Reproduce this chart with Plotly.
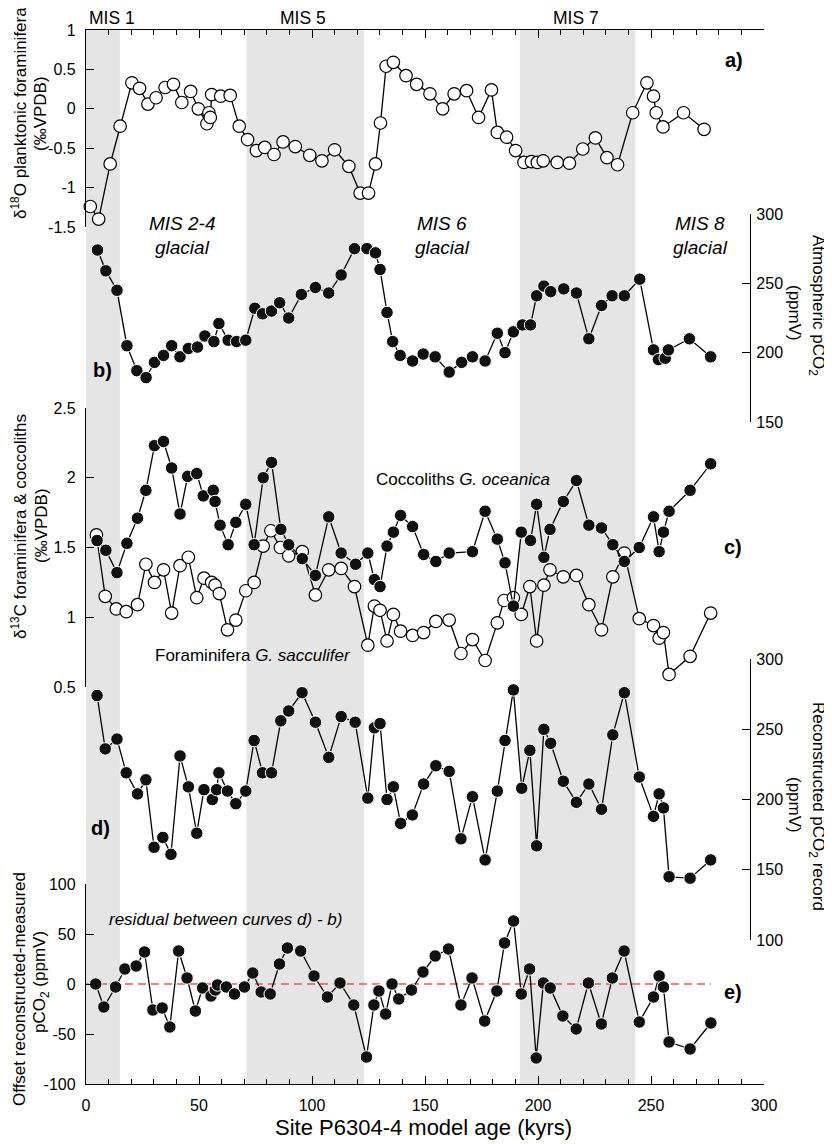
import plotly.graph_objects as go

# --- data ---
# a) d18O planktonic foraminifera
A_AGE = [1.9, 5.6, 10.7, 15.1, 20.3, 23.7, 27.4, 31.0, 35.0, 38.7, 42.4, 46.3, 49.7, 53.5, 54.4, 55.0,
         55.6, 59.6, 63.8, 67.8, 71.5, 75.4, 79.1, 83.2, 87.2, 92.6, 99.0, 104.4, 110.0, 116.3, 121.3,
         125.0, 128.1, 130.3, 132.8, 136.0, 141.6, 146.3, 152.2, 157.8, 162.9, 168.4, 173.7, 179.4,
         182.0, 186.1, 190.1, 193.8, 197.1, 199.7, 202.3, 208.5, 213.9, 219.8, 225.4, 230.5, 235.2,
         241.9, 248.2, 251.1, 252.3, 255.3, 264.4, 273.5]
A_D18O = [-1.24, -1.40, -0.70, -0.22, 0.33, 0.26, 0.06, 0.14, 0.27, 0.31, 0.08, 0.22, 0.0, -0.19, -0.05,
          -0.11, 0.18, 0.16, 0.17, -0.22, -0.39, -0.53, -0.49, -0.58, -0.42, -0.48, -0.59, -0.66, -0.52,
          -0.73, -1.07, -1.07, -0.70, -0.18, 0.54, 0.59, 0.42, 0.31, 0.19, 0.0, 0.19, 0.23, -0.11, 0.24,
          -0.30, -0.36, -0.53, -0.68, -0.67, -0.68, -0.66, -0.68, -0.69, -0.51, -0.37, -0.62, -0.71,
          -0.05, 0.33, 0.16, -0.05, -0.23, -0.05, -0.26]

# b) atmospheric pCO2 (ppmV)
B_AGE = [5.1, 8.8, 13.7, 18.1, 22.5, 26.6, 30.3, 34.3, 37.9, 41.6, 45.3, 49.3, 52.6, 56.6, 58.8, 62.9,
         66.6, 70.7, 74.7, 78.1, 82.1, 85.7, 89.7, 95.3, 101.5, 107.4, 112.9, 118.8, 124.3, 128.1, 130.1,
         133.2, 135.7, 139.0, 144.5, 149.2, 154.5, 160.7, 166.2, 171.0, 176.6, 182.0, 185.4, 189.1,
         193.1, 196.7, 199.4, 202.6, 205.6, 211.4, 217.0, 222.5, 228.1, 232.8, 238.2, 245.0, 251.1,
         253.3, 256.3, 257.7, 267.0, 276.4]
B_CO2 = [274, 259, 245, 205, 187, 182, 193, 198, 205, 197, 203, 204, 212, 208, 221, 209, 208, 209, 232,
         228, 230, 236, 225, 242, 247, 243, 256, 275, 275, 272, 260, 229, 208, 198, 194, 199, 197, 186,
         193, 197, 194, 214, 200, 215, 220, 220, 241, 248, 244, 246, 243, 210, 234, 241, 241, 253, 202,
         195, 196, 202, 210, 197]

# c) d13C coccoliths G. oceanica
C_COC_AGE = [4.9, 8.8, 13.7, 18.1, 22.8, 26.5, 30.3, 34.3, 37.9, 41.6, 45.0, 49.0, 51.9, 56.3, 57.1,
             59.3, 62.9, 66.3, 70.7, 74.4, 78.4, 82.1, 86.2, 89.7, 95.7, 101.5, 107.4, 112.9, 119.3,
             124.7, 127.6, 130.1, 133.2, 136.0, 139.2, 144.5, 149.4, 154.8, 160.7, 171.0, 176.6, 182.0,
             185.4, 189.1, 192.6, 196.7, 199.4, 202.6, 205.3, 211.2, 217.0, 222.5, 228.1, 233.1, 238.2,
             244.8, 251.1, 253.6, 255.5, 258.0, 267.3, 276.4]
C_COC = [1.55, 1.48, 1.32, 1.53, 1.71, 1.91, 2.23, 2.26, 2.07, 1.74, 2.01, 2.03, 1.87, 1.91, 1.83, 1.66,
         1.52, 1.68, 1.81, 1.52, 2.00, 2.11, 1.63, 1.52, 1.42, 1.30, 1.72, 1.46, 1.38, 1.46, 1.27, 1.22,
         1.51, 1.61, 1.73, 1.65, 1.45, 1.40, 1.46, 1.47, 1.76, 1.56, 1.39, 1.08, 1.61, 1.55, 1.81, 1.43,
         1.63, 1.83, 1.98, 1.66, 1.64, 1.52, 1.40, 1.50, 1.72, 1.47, 1.61, 1.76, 1.91, 2.10]

# c) d13C foraminifera G. sacculifer
C_FOR_AGE = [4.6, 8.5, 13.4, 17.8, 22.8, 26.5, 30.3, 34.3, 37.9, 41.6, 45.3, 49.0, 52.2, 55.6, 57.1,
             59.0, 62.6, 66.3, 70.7, 74.4, 78.4, 81.8, 86.0, 89.7, 95.7, 101.5, 107.4, 112.9, 118.8,
             124.7, 127.6, 130.1, 133.2, 136.0, 139.2, 144.5, 149.4, 154.8, 160.7, 165.9, 171.0, 176.6,
             182.0, 185.0, 189.1, 192.6, 196.4, 199.4, 202.6, 205.3, 211.2, 217.0, 222.5, 228.1, 233.1,
             238.2, 244.8, 251.1, 253.6, 255.5, 258.0, 267.3, 276.4]
C_FOR = [1.59, 1.15, 1.06, 1.04, 1.09, 1.38, 1.25, 1.34, 1.03, 1.37, 1.43, 1.14, 1.28, 1.25, 1.23, 1.17,
         0.91, 0.98, 1.19, 1.25, 1.51, 1.62, 1.50, 1.44, 1.47, 1.16, 1.34, 1.35, 1.22, 0.80, 1.08, 1.05,
         0.83, 1.02, 0.90, 0.87, 0.89, 0.97, 0.98, 0.74, 0.84, 0.69, 0.96, 1.12, 1.14, 1.02, 1.22, 0.83,
         1.23, 1.34, 1.29, 1.30, 1.09, 0.91, 1.29, 1.46, 0.99, 0.94, 0.85, 0.89, 0.59, 0.72, 1.03]

# d) reconstructed pCO2 (ppmV)
D_AGE = [4.9, 8.5, 13.7, 17.8, 22.8, 26.5, 30.1, 34.0, 37.6, 41.6, 45.3, 49.0, 52.2, 55.9, 57.8, 58.8,
         62.6, 66.3, 70.7, 74.4, 78.1, 82.1, 86.2, 89.7, 95.6, 101.5, 107.4, 112.9, 119.1, 124.7, 127.6,
         130.1, 133.2, 136.0, 139.2, 144.4, 149.4, 154.8, 160.7, 165.9, 171.0, 176.6, 182.0, 185.4,
         189.1, 192.8, 196.4, 199.4, 202.6, 205.6, 211.2, 217.0, 222.5, 228.1, 233.1, 238.2, 244.8,
         251.1, 253.6, 255.5, 258.0, 267.3, 276.4]
D_CO2 = [274, 236, 243, 219, 204, 214, 166, 173, 161, 231, 209, 176, 207, 200, 207, 219, 206, 197, 206,
         242, 219, 219, 256, 263, 276, 255, 230, 259, 255, 201, 251, 254, 200, 209, 183, 189, 211, 224,
         220, 172, 202, 157, 206, 242, 278, 208, 235, 167, 250, 240, 213, 198, 211, 193, 246, 276, 216,
         188, 204, 194, 145, 144, 157]

# e) residual d) - b) (ppmV)
E_AGE = [4.3, 7.9, 13.1, 17.2, 22.2, 25.9, 29.6, 33.7, 37.1, 41.0, 44.7, 48.4, 51.6, 55.3, 57.2, 58.2,
         62.1, 65.7, 70.1, 73.8, 77.5, 81.5, 85.6, 89.1, 95.0, 100.9, 106.8, 112.4, 118.5, 124.1, 127.4,
         129.6, 132.6, 135.4, 138.4, 144.0, 149.1, 154.5, 160.4, 165.9, 170.8, 176.4, 181.8, 185.2,
         189.2, 192.6, 196.3, 199.2, 202.4, 205.4, 211.0, 216.9, 222.3, 228.0, 232.9, 238.1, 244.8,
         251.1, 253.6, 255.5, 258.0, 267.3, 276.5]
E_RES = [0, -23, -3, 15, 18, 32, -26, -24, -43, 33, 6, -27, -4, -12, -6, -1, -3, -10, -3, 11, -8, -10,
         20, 36, 33, 8, -13, 1, -21, -73, -21, -7, -30, 0, -15, -6, 12, 28, 35, -21, 6, -37, -7, 41, 63,
         -10, 15, -74, 1, -4, -32, -45, 1, -40, 6, 33, -38, -13, 8, -3, -58, -65, -39]

# interglacial bands (kyr)
MIS_BANDS = [(0, 15), (71, 123), (192, 243)]

X_TICKS = [0, 50, 100, 150, 200, 250, 300]
A_TICKS = [-1.5, -1, -0.5, 0, 0.5, 1]
A_LABELS = ["-1.5", "-1", "-0.5", "0", "0.5", "1"]
B_TICKS = [150, 200, 250, 300]
C_TICKS = [0.5, 1, 1.5, 2, 2.5]
C_LABELS = ["0.5", "1", "1.5", "2", "2.5"]
D_TICKS = [100, 150, 200, 250, 300]
E_TICKS = [-100, -50, 0, 50, 100]
E_LABELS = ["-100", "-50", "0", "50", "100"]

# --- geometry, in page pixels (the plot div sits 8px in from the page corner) ---
PAGE_W, PAGE_H, OFF = 832, 1144, 8
L, R, T, B = 86, 764, 30, 1084
W, H = R - L, B - T


def px_x(p):
    return (p - L) / W


def px_y(p):
    return (B - p) / H


FONT = "Liberation Sans, Arial, sans-serif"
open_mk = dict(size=12.5, color="white", line=dict(color="black", width=1.2))
fill_mk = dict(size=12.5, color="#111111", line=dict(color="white", width=1))
line_st = dict(color="black", width=1.3)

fig = go.Figure()

fig.add_trace(go.Scatter(x=A_AGE, y=A_D18O, xaxis="x", yaxis="y", mode="lines+markers",
                         line=line_st, marker=open_mk, cliponaxis=False))
fig.add_trace(go.Scatter(x=B_AGE, y=B_CO2, xaxis="x", yaxis="y2", mode="lines+markers",
                         line=line_st, marker=fill_mk, cliponaxis=False))
fig.add_trace(go.Scatter(x=C_FOR_AGE, y=C_FOR, xaxis="x", yaxis="y3", mode="lines+markers",
                         line=line_st, marker=open_mk, cliponaxis=False))
fig.add_trace(go.Scatter(x=C_COC_AGE, y=C_COC, xaxis="x", yaxis="y3", mode="lines+markers",
                         line=line_st, marker=fill_mk, cliponaxis=False))
fig.add_trace(go.Scatter(x=D_AGE, y=D_CO2, xaxis="x", yaxis="y4", mode="lines+markers",
                         line=line_st, marker=fill_mk, cliponaxis=False))
# zero line of the residual panel
fig.add_trace(go.Scatter(x=[0, E_AGE[-1]], y=[0, 0], xaxis="x", yaxis="y5", mode="lines",
                         line=dict(color="#e05a5a", width=1.5, dash="8px,5px")))
fig.add_trace(go.Scatter(x=E_AGE, y=E_RES, xaxis="x", yaxis="y5", mode="lines+markers",
                         line=line_st, marker=fill_mk, cliponaxis=False))
# keeps the top axis drawn
fig.add_trace(go.Scatter(x=[None], y=[None], xaxis="x2", yaxis="y", showlegend=False))

for x0, x1 in MIS_BANDS:
    fig.add_shape(type="rect", xref="x", yref="paper", x0=x0, x1=x1, y0=0, y1=1,
                  fillcolor="#e5e5e5", line_width=0, layer="below")

ax = dict(showline=True, linecolor="black", linewidth=1.3, ticks="inside", tickcolor="black",
          tickwidth=1.3, ticklen=8, showgrid=False, zeroline=False,
          tickfont=dict(size=16, color="black", family=FONT))
minor = dict(dtick=10, ticks="inside", ticklen=5, tickcolor="black", tickwidth=1.3, showgrid=False)

fig.update_layout(
    width=PAGE_W, height=PAGE_H,
    margin=dict(l=L - OFF, r=PAGE_W - R + OFF, t=T - OFF, b=PAGE_H - B + OFF),
    paper_bgcolor="white", plot_bgcolor="rgba(0,0,0,0)",
    showlegend=False,
    font=dict(family=FONT, color="black"),
    xaxis=dict(ax, domain=[0, 1], range=[0, 300], anchor="y5", tickvals=X_TICKS, minor=minor,
               ticklabelstandoff=7),
    xaxis2=dict(ax, domain=[0, 1], range=[0, 300], anchor="y", side="top", overlaying="x",
                tickvals=X_TICKS, showticklabels=False, minor=minor),
    yaxis=dict(ax, domain=[px_y(227), 1], range=[-1.5, 1], anchor="x",
               tickvals=A_TICKS, ticktext=A_LABELS, ticklabelstandoff=6),
    yaxis2=dict(ax, domain=[px_y(422), px_y(214)], range=[150, 300], side="right", anchor="free",
                position=px_x(750), tickvals=B_TICKS, ticklabelstandoff=2),
    yaxis3=dict(ax, domain=[px_y(687), px_y(408)], range=[0.5, 2.5], anchor="x",
                tickvals=C_TICKS, ticktext=C_LABELS, ticklabelstandoff=6),
    yaxis4=dict(ax, domain=[px_y(940), px_y(659)], range=[100, 300], side="right", anchor="free",
                position=px_x(750), tickvals=D_TICKS, ticklabelstandoff=2),
    yaxis5=dict(ax, domain=[0, px_y(884)], range=[-100, 100], anchor="x",
                tickvals=E_TICKS, ticktext=E_LABELS, ticklabelstandoff=6),
)


def note(text, x, y, size=16, angle=0):
    fig.add_annotation(text=text, x=px_x(x), y=px_y(y), xref="paper", yref="paper",
                       xanchor="center", yanchor="middle", showarrow=False, textangle=angle,
                       font=dict(size=size, color="black", family=FONT))


# stage labels
note("MIS 1", 112, 18.5, 17.5)
note("MIS 5", 303, 18.5, 17.5)
note("MIS 7", 576, 18.5, 17.5)
for cx, stage in [(182, "MIS 2-4"), (442, "MIS 6"), (700, "MIS 8")]:
    note("<i>%s</i>" % stage, cx, 223, 19)
    note("<i>glacial</i>", cx, 248, 19)

# panel letters
note("<b>a)</b>", 734, 60, 20)
note("<b>b)</b>", 102, 370, 20)
note("<b>c)</b>", 733, 547, 20)
note("<b>d)</b>", 100, 828, 20)
note("<b>e)</b>", 733, 992, 20)

# curve labels
note("Coccoliths <i>G. oceanica</i>", 463, 479, 17)
note("Foraminifera <i>G. sacculifer</i>", 253, 655, 17)
note("<i>residual between curves d) - b)</i>", 225, 919, 17)

# axis titles
note("δ<sup>18</sup>O planktonic foraminifera", 19, 113, 17, -90)
note("(‰VPDB)", 41, 113, 17, -90)
note("δ<sup>13</sup>C foraminifera & coccoliths", 19, 527, 17, -90)
note("(‰VPDB)", 41, 525, 17, -90)
note("Offset reconstructed-measured", 19, 989, 17, -90)
note("pCO<sub>2</sub> (ppmV)", 41, 982, 17, -90)
note("Atmospheric pCO<sub>2</sub>", 817, 305, 17, 90)
note("(ppmV)", 795, 313, 17, 90)
note("Reconstructed pCO<sub>2</sub> record", 817, 806, 17, 90)
note("(ppmV)", 795, 805, 17, 90)
note("Site P6304-4 model age (kyrs)", 423, 1127, 22)

fig.write_html("out.html")
